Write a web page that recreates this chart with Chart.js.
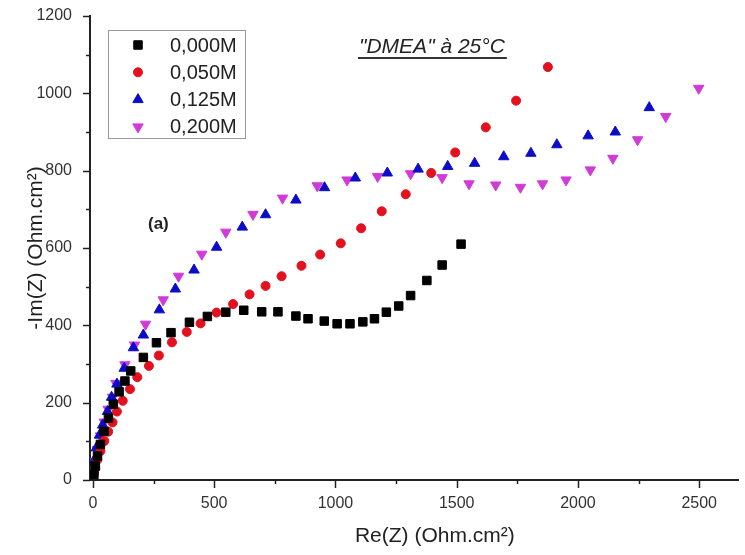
<!DOCTYPE html>
<html>
<head>
<meta charset="utf-8">
<script src="https://cdn.jsdelivr.net/npm/chart.js@4.4.1/dist/chart.umd.min.js"></script>
<style>
  html, body { margin: 0; padding: 0; background: #fff; }
  #chart { display: block; }
</style>
</head>
<body>
<canvas id="chart" width="745" height="555"></canvas>
<script>
// Nyquist data: [Re(Z), -Im(Z)] in Ohm.cm2
const labels = ['0,000M', '0,050M', '0,125M', '0,200M'];

const re000 = [4, 10, 19, 31, 46, 64, 84, 108, 132, 156, 208, 262, 322, 398, 472, 548, 622, 696, 763, 837, 887, 954, 1007, 1060, 1113, 1161, 1210, 1261, 1310, 1377, 1440, 1518];
const im000 = [14, 36, 62, 92, 126, 160, 196, 228, 256, 282, 317, 355, 381, 408, 423, 434, 439, 435, 435, 424, 417, 411, 404, 404, 409, 417, 434, 450, 477, 516, 556, 610];

const re050 = [4, 10, 18, 31, 47, 63, 81, 99, 123, 153, 183, 231, 272, 326, 387, 444, 510, 578, 646, 712, 778, 860, 937, 1022, 1106, 1191, 1290, 1395, 1494, 1620, 1745, 1876];
const im050 = [16, 31, 52, 75, 101, 125, 149, 177, 205, 235, 266, 295, 322, 356, 383, 405, 433, 455, 480, 502, 527, 554, 583, 612, 651, 695, 739, 794, 847, 912, 981, 1068];

const re125 = [2, 6, 14, 27, 40, 60, 77, 99, 129, 167, 208, 274, 340, 417, 510, 616, 712, 837, 955, 1082, 1214, 1341, 1463, 1574, 1694, 1806, 1913, 2042, 2154, 2294];
const im125 = [26, 52, 83, 116, 142, 177, 214, 248, 289, 342, 375, 440, 494, 543, 602, 654, 686, 724, 756, 781, 794, 804, 811, 819, 836, 845, 867, 890, 900, 963];

const re200 = [2, 10, 18, 31, 47, 63, 81, 95, 132, 172, 217, 290, 353, 449, 548, 660, 782, 925, 1048, 1174, 1310, 1440, 1551, 1661, 1763, 1854, 1951, 2051, 2144, 2246, 2362, 2498];
const im200 = [21, 47, 78, 114, 150, 183, 214, 250, 298, 349, 403, 466, 527, 584, 641, 687, 729, 761, 776, 785, 792, 782, 766, 763, 757, 766, 776, 802, 832, 880, 940, 1013];

const xMajor = [0, 500, 1000, 1500, 2000, 2500];
const xMinor = [250, 750, 1250, 1750, 2250];
const yMajor = [0, 200, 400, 600, 800, 1000, 1200];
const yMinor = [100, 300, 500, 700, 900, 1100];

function pairs(xs, ys) {
    return xs.map((x, i) => ({ x: x, y: ys[i] }));
}

const FONT = "'Liberation Sans', Arial, sans-serif";

// axis titles, tick marks, legend box and notes
const decorations = {
    id: 'decorations',
    afterDraw(chart) {
        const ctx = chart.ctx;
        const xs = chart.scales.x;
        const ys = chart.scales.y;
        const area = chart.chartArea;

        ctx.save();
        ctx.strokeStyle = '#222';
        ctx.lineWidth = 1.5;
        xMajor.concat(xMinor).forEach(v => {
            const px = Math.round(xs.getPixelForValue(v)) + 0.5;
            const len = xMajor.includes(v) ? 8 : 4;
            ctx.beginPath();
            ctx.moveTo(px, area.bottom);
            ctx.lineTo(px, area.bottom + len);
            ctx.stroke();
        });
        yMajor.concat(yMinor).forEach(v => {
            const py = Math.round(ys.getPixelForValue(v)) + 0.5;
            const len = yMajor.includes(v) ? 7 : 4;
            ctx.beginPath();
            ctx.moveTo(area.left, py);
            ctx.lineTo(area.left - len, py);
            ctx.stroke();
        });

        // axis titles
        ctx.fillStyle = '#222';
        ctx.font = '21px ' + FONT;
        ctx.textAlign = 'center';
        ctx.textBaseline = 'alphabetic';
        ctx.fillText('Re(Z) (Ohm.cm²)', xs.getPixelForValue(1410), 542);
        ctx.save();
        ctx.translate(42, (area.top + area.bottom) / 2);
        ctx.rotate(-Math.PI / 2);
        ctx.fillText('-Im(Z) (Ohm.cm²)', 0, 0);
        ctx.restore();

        // title note
        ctx.font = 'italic 21px ' + FONT;
        ctx.textAlign = 'left';
        const note = '"DMEA" à 25°C';
        ctx.fillText(note, 359, 53);
        const w = ctx.measureText(note).width;
        ctx.lineWidth = 2;
        ctx.strokeStyle = '#333';
        ctx.beginPath();
        ctx.moveTo(358, 58);
        ctx.lineTo(361 + w, 58);
        ctx.stroke();

        ctx.font = 'bold 17px ' + FONT;
        ctx.fillText('(a)', 148, 229);

        // legend
        ctx.strokeStyle = '#999';
        ctx.lineWidth = 1;
        ctx.strokeRect(108.5, 30.5, 137, 108);
        ctx.font = '20px ' + FONT;
        ctx.textBaseline = 'middle';
        chart.data.datasets.forEach((ds, i) => {
            const y = 45 + i * 27.3;
            ctx.fillStyle = ds.backgroundColor;
            ctx.strokeStyle = ds.borderColor;
            Chart.helpers.drawPoint(ctx, {
                pointStyle: ds.pointStyle,
                rotation: ds.pointRotation || 0,
                radius: ds.pointRadius,
                borderWidth: 1
            }, 138, y);
            ctx.fillStyle = '#222';
            ctx.fillText(ds.label, 170, y + 1);
        });
        ctx.restore();
    }
};

new Chart(document.getElementById('chart'), {
    type: 'scatter',
    data: {
        datasets: [
            { label: labels[0], data: pairs(re000, im000), pointStyle: 'rect', pointRadius: 6,
              backgroundColor: '#000000', borderColor: '#000000', borderWidth: 1 },
            { label: labels[1], data: pairs(re050, im050), pointStyle: 'circle', pointRadius: 4.5,
              backgroundColor: '#e3101e', borderColor: '#e3101e', borderWidth: 1 },
            { label: labels[2], data: pairs(re125, im125), pointStyle: 'triangle', pointRadius: 6,
              backgroundColor: '#0c0cc8', borderColor: '#0c0cc8', borderWidth: 1 },
            { label: labels[3], data: pairs(re200, im200), pointStyle: 'triangle', pointRotation: 180, pointRadius: 6,
              backgroundColor: '#d23ad8', borderColor: '#d23ad8', borderWidth: 1 }
        ]
    },
    options: {
        responsive: false,
        animation: false,
        devicePixelRatio: 1,
        layout: { padding: { top: 16, right: 0, left: 0, bottom: 0 } },
        plugins: {
            legend: { display: false },
            tooltip: { enabled: false }
        },
        scales: {
            x: {
                type: 'linear',
                min: -12,
                max: 2660,
                afterFit: s => { s.height = 75; s.paddingLeft = 0; s.paddingRight = 0; },
                afterBuildTicks: s => { s.ticks = xMajor.map(v => ({ value: v })); },
                grid: { display: false, drawTicks: false },
                border: { display: true, color: '#222', width: 2 },
                ticks: {
                    autoSkip: false,
                    maxRotation: 0,
                    padding: 14,
                    color: '#333',
                    font: { family: FONT, size: 16 },
                    callback: v => String(v)
                }
            },
            y: {
                min: 0,
                max: 1200,
                afterFit: s => { s.width = 90; s.paddingTop = 0; s.paddingBottom = 0; },
                afterBuildTicks: s => { s.ticks = yMajor.map(v => ({ value: v })); },
                grid: { display: false, drawTicks: false },
                border: { display: true, color: '#222', width: 2 },
                ticks: {
                    autoSkip: false,
                    padding: 18,
                    color: '#333',
                    font: { family: FONT, size: 16 },
                    callback: v => String(v)
                }
            }
        }
    },
    plugins: [decorations]
});
</script>
</body>
</html>
